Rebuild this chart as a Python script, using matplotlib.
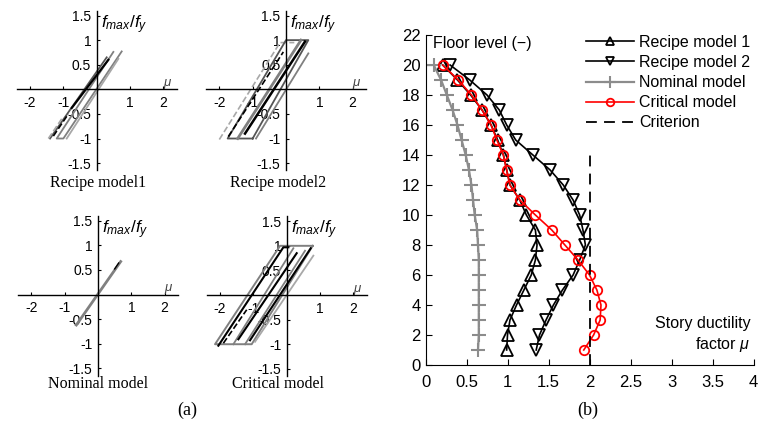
import matplotlib
matplotlib.use('Agg')
import matplotlib.pyplot as plt

plt.rcParams['font.family'] = ['Liberation Sans', 'DejaVu Sans']
plt.rcParams['mathtext.fontset'] = 'custom'
plt.rcParams['mathtext.it'] = 'Liberation Sans:italic'
plt.rcParams['mathtext.rm'] = 'Liberation Sans'
plt.rcParams['axes.unicode_minus'] = False

# (b) story ductility factor for each floor (floor 1 .. 20)
floors = list(range(1, 21))
recipe1 = [0.99, 1.0, 1.03, 1.11, 1.20, 1.29, 1.34, 1.36, 1.34, 1.23,
           1.15, 1.03, 0.99, 0.95, 0.88, 0.80, 0.69, 0.55, 0.39, 0.21]
recipe2 = [1.35, 1.39, 1.47, 1.56, 1.67, 1.80, 1.88, 1.95, 1.92, 1.88,
           1.80, 1.68, 1.52, 1.31, 1.10, 0.99, 0.90, 0.75, 0.54, 0.30]
nominal = [0.64, 0.65, 0.65, 0.65, 0.65, 0.65, 0.65, 0.64, 0.63, 0.60,
           0.58, 0.56, 0.53, 0.49, 0.44, 0.39, 0.33, 0.26, 0.19, 0.10]
critical = [1.93, 2.05, 2.13, 2.14, 2.09, 2.00, 1.86, 1.70, 1.54, 1.34,
            1.15, 1.03, 0.99, 0.95, 0.87, 0.80, 0.69, 0.56, 0.40, 0.21]
criterionMu = [2.0, 2.0]
criterionFloors = [0, 14]
seriesNames = ['Recipe model 1', 'Recipe model 2', 'Nominal model', 'Critical model', 'Criterion']

# (a) hysteresis loops (mu, f_max/f_y), one polyline per list entry
recipe1Mu = [[-1.4, 0.3], [0.5, -1.2, -1.0, 0.75], [-0.9, 0.65], [-0.75, 0.35], [-1.3, -0.85], [-1.45, -1.05]]
recipe1F = [[-1.0, 0.65], [0.76, -1.0, -1.0, 0.77], [-1.0, 0.62], [-0.38, 0.6], [-0.95, -0.5], [-1.0, -0.6]]

recipe2Mu = [[-2.0, -0.18, 0.25], [-1.0, -1.75, 0.0, 0.67, -1.0], [-1.45, 0.45], [-0.9, 0.67], [-1.23, 0.57], [-1.73, -0.08]]
recipe2F = [[-1.02, 0.95, 0.95], [-1.0, -1.0, 1.0, 1.0, -1.0], [-1.0, 1.0], [-1.0, 0.73], [-0.9, 0.97], [-0.96, 0.76]]

nominalMu = [[-0.65, 0.68], [0.5, 0.62]]
nominalF = [[-0.62, 0.67], [0.52, 0.64]]

criticalMu = [[0.78, -1.05, -2.15, -0.2, 0.78], [-2.05, -0.1, 0.05], [-1.6, 0.2], [-1.45, 0.3],
              [-1.25, 0.55], [-1.1, 0.72], [-0.95, 0.8], [-1.9, -1.2]]
criticalF = [[1.0, -1.0, -1.0, 1.0, 1.0], [-1.03, 0.97, 0.97], [-1.0, 0.95], [-0.9, 0.85],
             [-1.0, 0.9], [-0.92, 0.95], [-0.95, 0.8], [-0.98, -0.3]]

figW, figH = 763, 425
fig = plt.figure(figsize=(figW / 100, figH / 100), dpi=100)


def pxAxes(left, top, right, bottom):
    # axes rectangle given in pixels of the picture
    return fig.add_axes([left / figW, 1 - bottom / figH, (right - left) / figW, (bottom - top) / figH])


def drawLoops(ax, muList, fList, styles):
    for mu, f, st in zip(muList, fList, styles):
        ax.plot(mu, f, color=st[0], ls=st[1], lw=st[2])
    ax.set_xlim(-2.4, 2.4)
    ax.set_ylim(-1.65, 1.6)
    ax.patch.set_alpha(0)
    for s in ['top', 'right']:
        ax.spines[s].set_visible(False)
    ax.spines['left'].set_position(('data', 0))
    ax.spines['bottom'].set_position(('data', 0))
    ax.spines['left'].set_linewidth(1.0)
    ax.spines['bottom'].set_linewidth(1.0)
    ax.set_xticks([-2, -1, 1, 2])
    ax.set_xticklabels(['-2', '-1', '1', '2'])
    ax.set_yticks([-1.5, -1, -0.5, 0.5, 1, 1.5])
    ax.set_yticklabels(['-1.5', '-1', '-0.5', '0.5', '1', '1.5'])
    ax.tick_params(direction='in', length=2, width=0.8, labelsize=10)
    ax.tick_params(axis='x', pad=5)
    ax.tick_params(axis='y', pad=4)
    ax.text(0.12, 1.25, r'$f_{max}/f_y$', fontsize=12.5)
    ax.text(1.98, 0.07, r'$\mu$', fontsize=9.5, color='#444444')


blk = '#000000'
dgr = '#555555'
gr = '#808080'
lgr = '#a8a8a8'

ax1 = pxAxes(16.7, 10.6, 176.7, 170.5)
drawLoops(ax1, recipe1Mu, recipe1F,
          [(dgr, '-', 1.3), (gr, '-', 1.3), (lgr, '-', 1.3), (blk, '-', 1.6), (blk, '--', 1.2), (lgr, '--', 1.2)])

ax2 = pxAxes(206, 10.6, 366, 170.5)
drawLoops(ax2, recipe2Mu, recipe2F,
          [(lgr, '--', 1.2), (dgr, '-', 1.3), (gr, '-', 2.0), (gr, '-', 1.3), (blk, '-', 1.8), (blk, '--', 1.2)])

ax3 = pxAxes(18, 215.8, 178, 375.7)
drawLoops(ax3, nominalMu, nominalF, [(gr, '-', 2.0), (blk, '-', 1.0)])

ax4 = pxAxes(206.7, 216.3, 366.7, 376.2)
drawLoops(ax4, criticalMu, criticalF,
          [(gr, '-', 1.4), (blk, '-', 1.5), (gr, '-', 1.3), (blk, '-', 1.5), (gr, '-', 1.3), (blk, '-', 1.5),
           (lgr, '-', 1.3), (blk, '--', 1.2)])

serif = ['Liberation Serif', 'DejaVu Serif']
fig.text(98 / figW, 1 - 183 / figH, 'Recipe model1', ha='center', va='center', fontsize=11.5, family=serif)
fig.text(278 / figW, 1 - 183 / figH, 'Recipe model2', ha='center', va='center', fontsize=11.5, family=serif)
fig.text(98 / figW, 1 - 384 / figH, 'Nominal model', ha='center', va='center', fontsize=11.5, family=serif)
fig.text(278 / figW, 1 - 384 / figH, 'Critical model', ha='center', va='center', fontsize=11.5, family=serif)
fig.text(187 / figW, 1 - 410 / figH, '(a)', ha='center', va='center', fontsize=13, family=serif)
fig.text(588 / figW, 1 - 410 / figH, '(b)', ha='center', va='center', fontsize=13, family=serif)

# (b) ductility distribution over the height
ax = pxAxes(425.5, 35, 753.5, 365)
ax.plot(recipe1, floors, color='k', lw=1.2, marker='^', ms=8, mfc='none', mec='k', mew=1.3, label=seriesNames[0])
ax.plot(recipe2, floors, color='k', lw=1.2, marker='v', ms=8, mfc='none', mec='k', mew=1.3, label=seriesNames[1])
ax.plot(nominal, floors, color='#8c8c8c', lw=1.6, marker='+', ms=10, mew=1.5, label=seriesNames[2])
ax.plot(critical, floors, color='#ff0000', lw=1.2, marker='o', ms=6.8, mfc='none', mec='#ff0000', mew=1.3,
        label=seriesNames[3])
ax.plot(criterionMu, criterionFloors, color='k', ls='--', dashes=(6, 4), lw=1.3, label=seriesNames[4])
ax.set_xlim(0, 4)
ax.set_ylim(0, 22)
ax.set_xticks([0, 0.5, 1, 1.5, 2, 2.5, 3, 3.5, 4])
ax.set_xticklabels(['0', '0.5', '1', '1.5', '2', '2.5', '3', '3.5', '4'])
ax.set_yticks(range(0, 23, 2))
ax.spines['top'].set_visible(False)
ax.spines['right'].set_visible(False)
ax.tick_params(direction='in', length=4, labelsize=12)
ax.tick_params(axis='x', pad=7)
ax.text(0.09, 21.4, 'Floor level (\u2212)', va='center', fontsize=11.5)
ax.text(3.96, 2.0, 'Story ductility\nfactor $\\mu$', ha='right', va='center', fontsize=11.5, linespacing=1.3)
ax.legend(loc='upper right', bbox_to_anchor=(1.0, 1.01), frameon=False, fontsize=11.5, handlelength=3.0,
          labelspacing=0.32, markerscale=0.8, borderpad=0.2, handletextpad=0.3, borderaxespad=0.0)

fig.savefig('out.png', dpi=100)
